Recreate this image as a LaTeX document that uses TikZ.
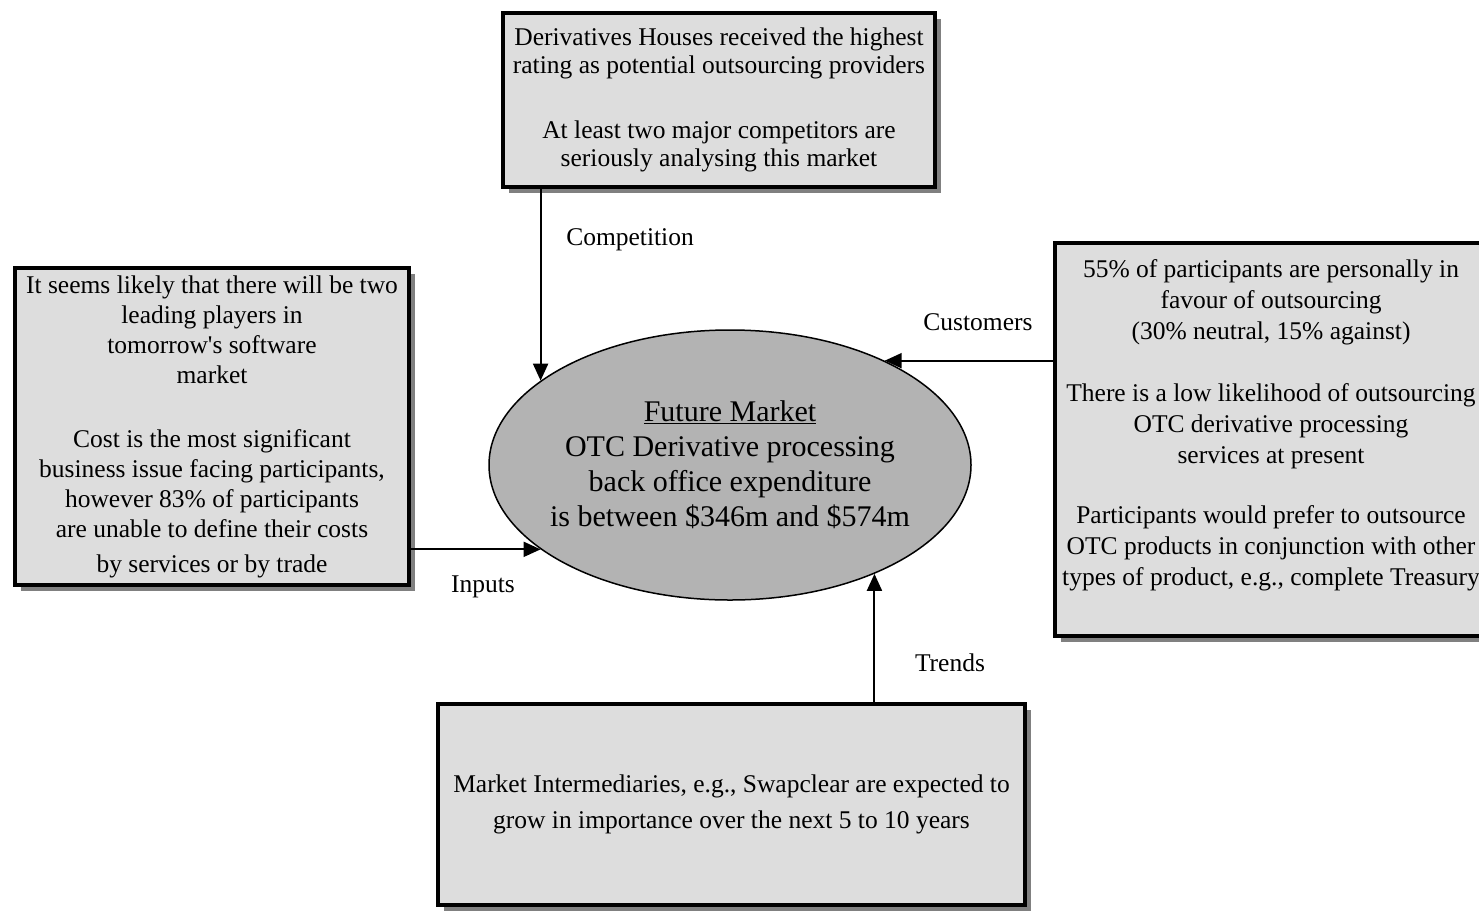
\documentclass[tikz,border=0pt]{standalone}
\usepackage{fontspec}
\setmainfont{Liberation Serif}
\usepackage{xcolor}
\usetikzlibrary{shapes.geometric,shadows,arrows.meta}
\definecolor{boxgray}{HTML}{DDDDDD}
\definecolor{ovalgray}{HTML}{B3B3B3}
\definecolor{shadegray}{HTML}{808080}

\begin{document}
\begin{tikzpicture}[x=1pt,y=-1pt,
    infobox/.style={rectangle, draw, line width=4pt, fill=boxgray, align=center, inner sep=0pt,
      drop shadow={shadow xshift=6pt, shadow yshift=-6pt, fill=shadegray, opacity=1}},
    flowlabel/.style={font=\fontsize{25.5}{29}\selectfont},
    arr/.style={-{Triangle[length=17pt,width=15pt]}, line width=2pt}]
      \useasboundingbox (0,0) rectangle (1479,910);

      % Nodes
      \node (market) [ellipse, draw, line width=1.5pt, fill=ovalgray, minimum width=482pt, minimum height=270pt,
        inner xsep=-20pt, inner ysep=20pt, align=center, font=\fontsize{30}{35}\selectfont] at (730,465)
        {\underline{Future Market}\\ OTC Derivative processing\\ back office expenditure\\ is between \$346m and \$574m};
      \node (compbox) [infobox, minimum width=432pt, minimum height=174pt, font=\fontsize{25.5}{28}\selectfont] at (719,100)
        {Derivatives Houses received the highest\\ rating as potential outsourcing providers\\[37pt]
         At least two major competitors are\\ seriously analysing this market};
      \node (inputbox) [infobox, minimum width=394pt, minimum height=317pt, font=\fontsize{25.5}{30}\selectfont] at (212,426.5)
        {It seems likely that there will be two\\ leading players in\\ tomorrow\textquotesingle s software\\ market\\[34pt]
         Cost is the most significant\\ business issue facing participants,\\ however 83\% of participants\\
         are unable to define their costs\\[5pt] by services or by trade};
      \node (custbox) [infobox, minimum width=432pt, minimum height=393pt, font=\fontsize{25.5}{31}\selectfont] at (1271,439.5)
        {55\% of participants are personally in\\ favour of outsourcing\\ (30\% neutral, 15\% against)\\[31pt]
         There is a low likelihood of outsourcing\\ OTC derivative processing\\ services at present\\[29pt]
         Participants would prefer to outsource\\ OTC products in conjunction with other\\
         types of product, e.g., complete Treasury\rule[-34pt]{0pt}{34pt}};
      \node (trendbox) [infobox, minimum width=587pt, minimum height=201pt, font=\fontsize{25.5}{36}\selectfont] at (731.5,804.5)
        {Market Intermediaries, e.g., Swapclear are expected to\\ grow in importance over the next 5 to 10 years};

      % Labels
      \node (lblcomp) [flowlabel] at (630,240) {Competition};
      \node (lblcust) [flowlabel] at (978,322) {Customers};
      \node (lblin) [flowlabel] at (483,587) {Inputs};
      \node (lbltrend) [flowlabel] at (950,663) {Trends};

      % Arrows
      \draw[arr] (compbox.south -| market.156) -- (market.156);
      \draw[arr] (custbox.west |- market.34) -- (market.34);
      \draw[arr] (inputbox.east |- market.204) -- (market.204);
      \draw[arr] (trendbox.north -| market.323) -- (market.323);

  \end{tikzpicture}
\end{document}
